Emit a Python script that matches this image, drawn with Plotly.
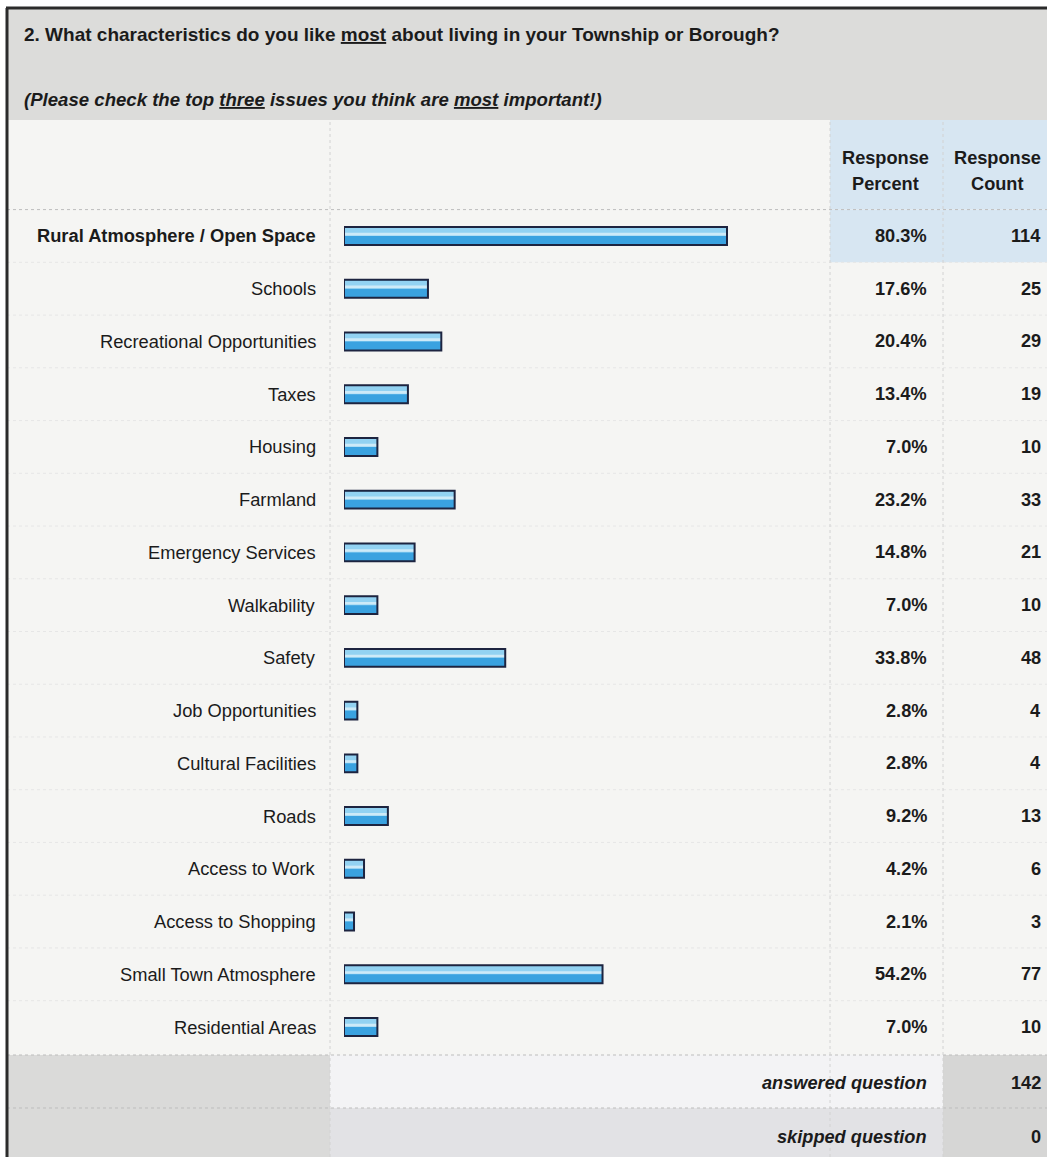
import plotly.graph_objects as go

# ---------------- data ----------------
categories = [
    "Rural Atmosphere / Open Space", "Schools", "Recreational Opportunities", "Taxes",
    "Housing", "Farmland", "Emergency Services", "Walkability", "Safety",
    "Job Opportunities", "Cultural Facilities", "Roads", "Access to Work",
    "Access to Shopping", "Small Town Atmosphere", "Residential Areas",
]
response_percent = [80.3, 17.6, 20.4, 13.4, 7.0, 23.2, 14.8, 7.0, 33.8, 2.8, 2.8, 9.2, 4.2, 2.1, 54.2, 7.0]
response_count = [114, 25, 29, 19, 10, 33, 21, 10, 48, 4, 4, 13, 6, 3, 77, 10]
answered_question = 142
skipped_question = 0
title_text = "2. What characteristics do you like <u>most</u> about living in your Township or Borough?"
subtitle_text = "(Please check the top <u>three</u> issues you think are <u>most</u> important!)"

# ---------------- layout helpers ----------------
W, H = 1047, 1157
FONT = "Liberation Sans, Arial, Helvetica, sans-serif"
TXT = "#1b1b1b"


def px(x):
    return x / W


def py(y):
    return 1 - y / H


ROW_TOP, ROW_BOTTOM = 209.6, 1053.4
X0, X100 = 344, 821

fig = go.Figure()

# base fill of bars
fig.add_trace(go.Bar(
    x=response_percent, y=categories, orientation="h",
    width=0.34, offset=-0.17,
    marker=dict(color="#3aa2e0", line=dict(width=0)),
    hoverinfo="skip", showlegend=False,
))
# light upper band (gradient look)
fig.add_trace(go.Bar(
    x=response_percent, y=categories, orientation="h",
    width=0.16, offset=-0.16,
    marker=dict(color="#92d2f2", line=dict(width=0)),
    hoverinfo="skip", showlegend=False,
))
# thin pale highlight line
fig.add_trace(go.Bar(
    x=response_percent, y=categories, orientation="h",
    width=0.05, offset=-0.06,
    marker=dict(color="#cdeaf8", line=dict(width=0)),
    hoverinfo="skip", showlegend=False,
))
# dark outline
fig.add_trace(go.Bar(
    x=response_percent, y=categories, orientation="h",
    width=0.34, offset=-0.17,
    marker=dict(color="rgba(0,0,0,0)", line=dict(color="#1d2440", width=2)),
    hoverinfo="skip", showlegend=False,
))

shapes = []
# overall table background (off-white paper)
shapes.append(dict(type="rect", xref="paper", yref="paper", x0=px(7), x1=px(W), y0=py(H), y1=py(8),
                   fillcolor="#f5f5f3", line=dict(width=0), layer="below"))
# title region
shapes.append(dict(type="rect", xref="paper", yref="paper", x0=px(7), x1=px(W), y0=py(120), y1=py(8),
                   fillcolor="#dcdcda", line=dict(width=0), layer="below"))
# header blue cells
shapes.append(dict(type="rect", xref="paper", yref="paper", x0=px(830), x1=px(W), y0=py(ROW_TOP), y1=py(120),
                   fillcolor="#d7e6f2", line=dict(width=0), layer="below"))
# first row blue cells (percent & count)
shapes.append(dict(type="rect", xref="paper", yref="y", x0=px(830), x1=px(W), y0=-0.5, y1=0.5,
                   fillcolor="#d7e6f2", line=dict(width=0), layer="below"))
# bottom summary rows
shapes.append(dict(type="rect", xref="paper", yref="paper", x0=px(7), x1=px(330), y0=py(H), y1=py(1055),
                   fillcolor="#dadad9", line=dict(width=0), layer="below"))
shapes.append(dict(type="rect", xref="paper", yref="paper", x0=px(330), x1=px(943), y0=py(1108), y1=py(1055),
                   fillcolor="#f3f3f5", line=dict(width=0), layer="below"))
shapes.append(dict(type="rect", xref="paper", yref="paper", x0=px(330), x1=px(943), y0=py(H), y1=py(1108),
                   fillcolor="#e2e2e5", line=dict(width=0), layer="below"))
shapes.append(dict(type="rect", xref="paper", yref="paper", x0=px(943), x1=px(W), y0=py(H), y1=py(1055),
                   fillcolor="#d6d6d5", line=dict(width=0), layer="below"))
# faint row separators
for k in range(len(categories) - 1):
    shapes.append(dict(type="line", xref="paper", yref="y", x0=px(7), x1=px(W), y0=k + 0.5, y1=k + 0.5,
                       line=dict(color="#e6e6e6", width=1, dash="dot"), layer="below"))
for yy in (ROW_TOP, 1055, 1108):
    shapes.append(dict(type="line", xref="paper", yref="paper", x0=px(7), x1=px(W), y0=py(yy), y1=py(yy),
                       line=dict(color="#bdbdbd", width=1, dash="dot"), layer="below"))
# vertical dividers
for xx, y_top in ((330, 120), (830, 120), (943, 120)):
    shapes.append(dict(type="line", xref="paper", yref="paper", x0=px(xx), x1=px(xx), y0=py(H), y1=py(y_top),
                       line=dict(color="#d2d2d2", width=1, dash="dot"), layer="below"))
# outer frame
shapes.append(dict(type="line", xref="paper", yref="paper", x0=px(6), x1=px(W), y0=py(8), y1=py(8),
                   line=dict(color="#2b2b2b", width=3)))
shapes.append(dict(type="line", xref="paper", yref="paper", x0=px(7), x1=px(7), y0=py(H), y1=py(8),
                   line=dict(color="#2b2b2b", width=3)))

annotations = []
annotations.append(dict(text="<b>" + title_text + "</b>", xref="paper", yref="paper", x=px(22), y=py(34),
                        xanchor="left", yanchor="middle", showarrow=False,
                        font=dict(family=FONT, size=19, color=TXT)))
annotations.append(dict(text="<b><i>" + subtitle_text + "</i></b>", xref="paper", yref="paper", x=px(22), y=py(99),
                        xanchor="left", yanchor="middle", showarrow=False,
                        font=dict(family=FONT, size=18.6, color=TXT)))
for cx, word2 in ((885, "Percent"), (998, "Count")):
    annotations.append(dict(text="<b>Response</b>", xref="paper", yref="paper", x=px(cx), y=py(158),
                            xanchor="center", yanchor="middle", showarrow=False,
                            font=dict(family=FONT, size=18.2, color=TXT)))
    annotations.append(dict(text="<b>" + word2 + "</b>", xref="paper", yref="paper", x=px(cx), y=py(184),
                            xanchor="center", yanchor="middle", showarrow=False,
                            font=dict(family=FONT, size=18.2, color=TXT)))

for i, (cat, pct, cnt) in enumerate(zip(categories, response_percent, response_count)):
    label = "<b>" + cat + "</b>" if i == 0 else cat
    annotations.append(dict(text=label, xref="paper", yref="y", x=px(318), y=cat,
                            xanchor="right", yanchor="middle", showarrow=False,
                            font=dict(family=FONT, size=18.3, color=TXT)))
    annotations.append(dict(text="<b>%.1f%%</b>" % pct, xref="paper", yref="y", x=px(929), y=cat,
                            xanchor="right", yanchor="middle", showarrow=False,
                            font=dict(family=FONT, size=18.2, color=TXT)))
    annotations.append(dict(text="<b>%d</b>" % cnt, xref="paper", yref="y", x=px(1043), y=cat,
                            xanchor="right", yanchor="middle", showarrow=False,
                            font=dict(family=FONT, size=18.2, color=TXT)))

for yc, lab, val in ((1083, "answered question", answered_question), (1137, "skipped question", skipped_question)):
    annotations.append(dict(text="<b><i>" + lab + "</i></b>", xref="paper", yref="paper", x=px(929), y=py(yc),
                            xanchor="right", yanchor="middle", showarrow=False,
                            font=dict(family=FONT, size=18.2, color=TXT)))
    annotations.append(dict(text="<b>%d</b>" % val, xref="paper", yref="paper", x=px(1043), y=py(yc),
                            xanchor="right", yanchor="middle", showarrow=False,
                            font=dict(family=FONT, size=18.2, color=TXT)))

fig.update_layout(
    width=W, height=H,
    margin=dict(l=0, r=0, t=0, b=0),
    paper_bgcolor="#ffffff",
    plot_bgcolor="rgba(0,0,0,0)",
    barmode="overlay",
    showlegend=False,
    xaxis=dict(domain=[px(X0), px(X100)], range=[0, 100], visible=False, fixedrange=True),
    yaxis=dict(domain=[py(ROW_BOTTOM), py(ROW_TOP)], type="category",
               categoryorder="array", categoryarray=categories,
               range=[len(categories) - 0.5, -0.5], visible=False, fixedrange=True),
    shapes=shapes,
    annotations=annotations,
)

# remove the browser's default page margin so the figure fills the window exactly
fig.write_html(
    "out.html",
    config={"displayModeBar": False},
    post_script="document.body.style.margin='0';document.body.style.overflow='hidden';",
)
